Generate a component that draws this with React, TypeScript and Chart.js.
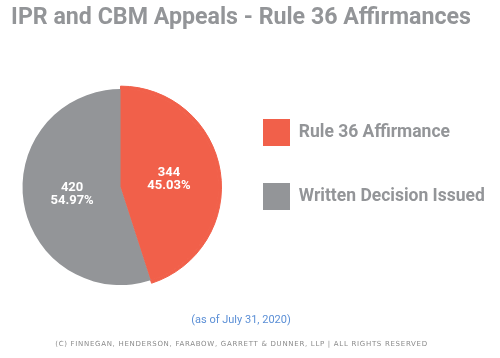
import React, { useEffect, useRef } from 'react';
import { Chart, registerables } from 'chart.js';

Chart.register(...registerables);

const categories = ['Rule 36 Affirmance', 'Written Decision Issued'];
const values = [344, 420];
const sliceColors = ['#f1604a', '#939598'];
const titleText = 'IPR and CBM Appeals - Rule 36 Affirmances';
const subtitleText = '(as of July 31, 2020)';
const footerText = '(C) FINNEGAN, HENDERSON, FARABOW, GARRETT & DUNNER, LLP | ALL RIGHTS RESERVED';

const GREY_TEXT = '#939598';

const sliceLabels = {
  id: 'sliceLabels',
  afterDatasetsDraw(chart: any) {
    const meta = chart.getDatasetMeta(1);
    const data = chart.data.datasets[1].data as number[];
    const total = data.reduce((a, b) => a + b, 0);
    const ctx = chart.ctx;
    ctx.save();
    ctx.fillStyle = '#ffffff';
    ctx.font = 'bold 13px Roboto';
    ctx.textAlign = 'center';
    ctx.textBaseline = 'middle';
    meta.data.forEach((arc: any, i: number) => {
      const { x, y } = arc.tooltipPosition(false);
      ctx.fillText(String(data[i]), x, y - 6.5);
      ctx.fillText(((data[i] / total) * 100).toFixed(2) + '%', x, y + 6.5);
    });
    ctx.restore();
  },
};

export default function App() {
  const ref = useRef<HTMLCanvasElement | null>(null);

  useEffect(() => {
    if (!ref.current) return;
    const chart = new Chart(ref.current, {
      type: 'pie',
      data: {
        labels: categories,
        datasets: [
          {
            data: values,
            backgroundColor: [sliceColors[0], 'rgba(0,0,0,0)'],
            borderColor: [sliceColors[0], 'rgba(0,0,0,0)'],
            borderWidth: [1, 0],
            weight: 3,
          },
          {
            data: values,
            backgroundColor: sliceColors,
            borderColor: sliceColors,
            borderWidth: [1, 0],
            weight: 98,
          },
        ],
      },
      options: {
        responsive: false,
        animation: false,
        devicePixelRatio: 1,
        events: [],
        radius: 101,
        layout: { padding: { left: -9, right: 9, top: 0, bottom: 31 } },
        plugins: {
          title: {
            display: true,
            text: titleText,
            color: GREY_TEXT,
            font: { family: 'Roboto', size: 23.2, weight: 'bold' },
            padding: { top: 4, bottom: 28.6 },
          },
          subtitle: {
            display: true,
            position: 'bottom',
            text: subtitleText,
            color: '#5b8fd6',
            font: { family: 'Roboto', size: 11, weight: 'normal' },
            padding: 0,
          },
          legend: {
            position: 'right',
            align: 'center',
            title: { display: true, text: ' ', font: { size: 10 }, padding: 2.5 },
            labels: {
              boxWidth: 27,
              boxHeight: 27,
              padding: 22,
              color: GREY_TEXT,
              font: { family: 'Roboto', size: 17.5, weight: 'bold', lineHeight: 2.4 },
              generateLabels: () =>
                categories.map((text, i) => ({
                  text: [text],
                  fillStyle: sliceColors[i],
                  strokeStyle: sliceColors[i],
                  lineWidth: 0,
                  fontColor: GREY_TEXT,
                  hidden: false,
                  index: i,
                  datasetIndex: 1,
                })),
            },
          },
          tooltip: { enabled: false },
        },
      } as any,
      plugins: [sliceLabels],
    });
    return () => chart.destroy();
  }, []);

  return (
    <div style={{ position: 'absolute', left: 0, top: 0, width: 500, height: 358, background: '#fff' }}>
      <canvas ref={ref} width={500} height={358} style={{ display: 'block' }} />
      <div
        style={{
          position: 'absolute',
          left: 0,
          top: 340,
          width: 483,
          textAlign: 'center',
          fontFamily: '"DejaVu Sans", sans-serif',
          fontSize: 7,
          lineHeight: '9px',
          letterSpacing: 0.7,
          color: '#8a8a8a',
          whiteSpace: 'nowrap',
        }}
      >
        {footerText}
      </div>
    </div>
  );
}
